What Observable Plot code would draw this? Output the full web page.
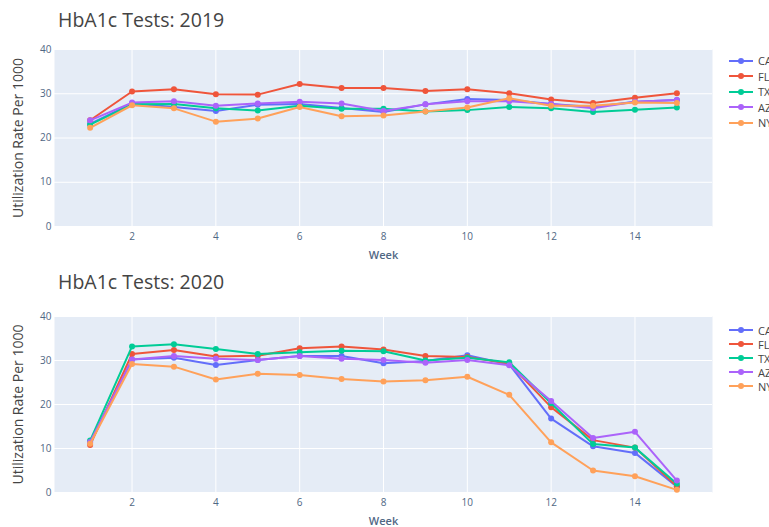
<!DOCTYPE html>
<html>
<head>
<meta charset="utf-8">
<script src="https://cdn.jsdelivr.net/npm/d3@7"></script>
<script src="https://cdn.jsdelivr.net/npm/@observablehq/plot@0.6"></script>
<style>
  html, body { margin: 0; padding: 0; background: #fff; overflow: hidden; width: 769px; height: 527px; }
  #root { position: relative; width: 769px; height: 527px; font-family: "Open Sans", sans-serif; }
  .title { position: absolute; left: 58px; font-size: 19.5px; color: #444; white-space: nowrap; }
  .chart { position: absolute; left: 0; }
  .legend { position: absolute; left: 727px; font-size: 11px; color: #444; }
  .legend div { display: flex; align-items: center; white-space: nowrap; }
  .legend svg { margin-right: 3px; }
</style>
</head>
<body>
<div id="root"></div>
<script>
const weeks = [1, 2, 3, 4, 5, 6, 7, 8, 9, 10, 11, 12, 13, 14, 15];
const states = ["CA", "FL", "TX", "AZ", "NY"];
const colors = ["#636efa", "#EF553B", "#00cc96", "#ab63fa", "#FFA15A"];
const xTicks = [2, 4, 6, 8, 10, 12, 14];
const yTicks = [0, 10, 20, 30, 40];

const ca2019 = [23.2, 27.8, 27.0, 26.1, 27.5, 27.7, 26.8, 25.9, 27.6, 28.8, 28.6, 27.7, 27.0, 28.2, 28.6];
const fl2019 = [24.0, 30.5, 31.0, 29.9, 29.8, 32.2, 31.3, 31.3, 30.6, 31.0, 30.1, 28.7, 27.9, 29.1, 30.1];
const tx2019 = [23.0, 27.6, 27.7, 26.7, 26.2, 27.3, 26.6, 26.6, 26.0, 26.3, 27.0, 26.7, 25.9, 26.4, 26.9];
const az2019 = [24.0, 28.0, 28.3, 27.3, 27.8, 28.2, 27.8, 26.1, 27.6, 28.3, 28.3, 27.7, 26.7, 28.2, 28.6];
const ny2019 = [22.3, 27.4, 26.7, 23.7, 24.4, 27.0, 24.9, 25.1, 26.0, 26.9, 29.0, 27.3, 27.3, 28.0, 27.9];

const ca2020 = [11.5, 30.2, 30.6, 29.0, 30.1, 31.0, 31.0, 29.4, 29.9, 31.2, 29.1, 16.8, 10.5, 9.0, 1.3];
const fl2020 = [10.8, 31.5, 32.4, 30.9, 31.1, 32.8, 33.2, 32.5, 31.0, 30.8, 29.3, 19.4, 11.9, 10.2, 1.4];
const tx2020 = [11.8, 33.2, 33.7, 32.6, 31.5, 31.9, 32.2, 32.1, 30.0, 30.6, 29.6, 20.3, 11.0, 10.2, 2.0];
const az2020 = [11.5, 30.2, 31.0, 30.4, 30.1, 31.0, 30.4, 30.1, 29.5, 30.1, 28.9, 20.8, 12.4, 13.8, 2.7];
const ny2020 = [11.1, 29.2, 28.6, 25.7, 27.0, 26.7, 25.8, 25.2, 25.5, 26.3, 22.2, 11.4, 5.0, 3.7, 0.6];

const titles = ["HbA1c Tests: 2019", "HbA1c Tests: 2020"];
const yLabel = "Utilization Rate Per 1000";
const xLabel = "Week";

function rowsFor(seriesList) {
  const rows = [];
  seriesList.forEach((vals, si) => {
    vals.forEach((v, i) => rows.push({ state: states[si], week: weeks[i], value: v }));
  });
  return rows;
}

function makeChart(seriesList, height, marginTop, marginBottom) {
  const rows = rowsFor(seriesList);
  const marks = [
    Plot.frame({ fill: "#E5ECF6", stroke: null }),
    Plot.gridX({ ticks: xTicks, stroke: "#fff", strokeOpacity: 1, strokeWidth: 1 }),
    Plot.gridY({ ticks: yTicks, stroke: "#fff", strokeOpacity: 1, strokeWidth: 1 }),
    Plot.axisX({ ticks: xTicks, tickSize: 0, tickPadding: 6, fontSize: 10, fill: "#506784", label: null }),
    Plot.axisY({ ticks: yTicks, tickSize: 0, tickPadding: 3, fontSize: 10, fill: "#506784", label: null }),
    Plot.text([yLabel], { frameAnchor: "left", textAnchor: "middle", rotate: -90, dx: -36, fontSize: 14, fill: "#444" }),
    Plot.text([xLabel], { frameAnchor: "bottom", dy: 32, fontSize: 11, fill: "#506784", fontWeight: 600 })
  ];
  states.forEach(s => {
    const sub = rows.filter(d => d.state === s);
    marks.push(Plot.line(sub, { x: "week", y: "value", stroke: "state", strokeWidth: 2 }));
    marks.push(Plot.dot(sub, { x: "week", y: "value", fill: "state", r: 3 }));
  });
  return Plot.plot({
    width: 769,
    height,
    marginLeft: 54,
    marginRight: 57,
    marginTop,
    marginBottom,
    style: { fontFamily: "Open Sans, sans-serif", background: "transparent", overflow: "visible" },
    x: { domain: [0.15, 15.85] },
    y: { domain: [0, 40] },
    color: { domain: states, range: colors },
    marks
  });
}

function makeLegend(top, spacing) {
  const lg = document.createElement("div");
  lg.className = "legend";
  lg.style.top = top + "px";
  states.forEach((s, i) => {
    const item = document.createElement("div");
    item.style.height = spacing + "px";
    item.innerHTML = `<svg width="28" height="8"><line x1="2" x2="26" y1="4" y2="4" stroke="${colors[i]}" stroke-width="2"/><circle cx="14" cy="4" r="3" fill="${colors[i]}"/></svg><span>${s}</span>`;
    lg.appendChild(item);
  });
  return lg;
}

const root = document.getElementById("root");

const c1 = makeChart([ca2019, fl2019, tx2019, az2019, ny2019], 265, 49, 39);
c1.classList.add("chart");
c1.style.top = "0px";
root.appendChild(c1);

const c2 = makeChart([ca2020, fl2020, tx2020, az2020, ny2020], 262, 51, 35);
c2.classList.add("chart");
c2.style.top = "265px";
root.appendChild(c2);

const t1 = document.createElement("div");
t1.className = "title"; t1.textContent = titles[0]; t1.style.top = "6px";
root.appendChild(t1);
const t2 = document.createElement("div");
t2.className = "title"; t2.textContent = titles[1]; t2.style.top = "268px";
root.appendChild(t2);

root.appendChild(makeLegend(53, 15.5));
root.appendChild(makeLegend(323, 14));
</script>
</body>
</html>
